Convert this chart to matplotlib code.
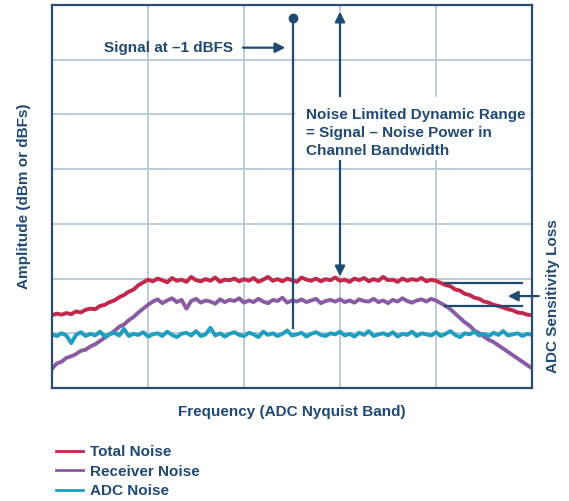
import numpy as np
import matplotlib
matplotlib.use("Agg")
import matplotlib.pyplot as plt
from matplotlib.patches import Rectangle

# --- Data (y in grid units, x across the Nyquist band) ---
total_noise = [
    1.33, 1.36, 1.34, 1.37, 1.35, 1.40, 1.38, 1.43, 1.45, 1.44,
    1.50, 1.52, 1.57, 1.60, 1.66, 1.70, 1.76, 1.80, 1.88, 1.93, 1.98,
    1.95, 2.00, 1.97, 1.93, 2.01, 1.96, 1.98, 1.94, 2.03, 1.97,
    1.95, 1.99, 1.96, 2.02, 1.94, 1.98, 1.97, 2.00, 1.95, 1.99,
    1.96, 2.01, 1.94, 1.98, 2.03, 1.96, 1.99, 1.95, 2.00, 1.97,
    1.94, 2.02, 1.98, 1.96, 2.00, 1.95, 1.99, 1.97, 2.02, 1.96,
    1.98, 1.94, 2.00, 1.97, 2.01, 1.95, 1.99, 1.96, 2.03, 1.97,
    1.98, 1.94, 2.00, 1.96, 1.99, 1.97, 2.01, 1.95, 1.98, 1.96,
    1.92, 1.88, 1.86, 1.80, 1.78, 1.72, 1.70, 1.65, 1.63, 1.58,
    1.56, 1.52, 1.50, 1.47, 1.44, 1.42, 1.38, 1.37, 1.34, 1.33,
]
receiver_noise = [
    0.35, 0.45, 0.48, 0.55, 0.58, 0.62, 0.68, 0.70, 0.76, 0.80,
    0.86, 0.92, 0.98, 1.04, 1.12, 1.16, 1.24, 1.30, 1.38, 1.45, 1.52,
    1.58, 1.62, 1.55, 1.60, 1.64, 1.57, 1.61, 1.45, 1.59, 1.63,
    1.56, 1.60, 1.58, 1.54, 1.62, 1.57, 1.61, 1.59, 1.64, 1.56,
    1.60, 1.57, 1.63, 1.58, 1.55, 1.61, 1.59, 1.65, 1.56, 1.60,
    1.58, 1.62, 1.57, 1.60, 1.63, 1.55, 1.59, 1.61, 1.58, 1.62,
    1.57, 1.60, 1.56, 1.62, 1.59, 1.58, 1.63, 1.57, 1.60, 1.55,
    1.61, 1.58, 1.64, 1.59, 1.56, 1.60, 1.62, 1.58, 1.63, 1.60,
    1.55, 1.50, 1.44, 1.36, 1.28, 1.20, 1.14, 1.05, 1.00, 0.94,
    0.88, 0.84, 0.78, 0.72, 0.66, 0.60, 0.54, 0.48, 0.42, 0.36,
]
adc_noise = [
    0.98, 0.95, 1.00, 0.96, 0.82, 0.97, 1.02, 0.95, 0.99, 0.96,
    1.03, 0.94, 0.98, 1.01, 0.96, 1.08, 0.95, 0.99, 0.97, 1.02,
    0.94, 0.98, 1.00, 0.95, 1.03, 0.97, 0.93, 0.99, 1.01, 0.96,
    1.04, 0.95, 0.98, 1.10, 0.96, 1.00, 0.94, 0.99, 1.02, 0.97,
    0.95, 1.01, 0.98, 0.93, 1.03, 0.97, 1.00, 0.95, 0.99, 1.05,
    0.96, 0.98, 1.01, 0.94, 0.99, 1.02, 0.97, 0.95, 1.00, 0.98,
    1.03, 0.96, 0.99, 0.94, 1.01, 0.97, 1.04, 0.95, 0.98, 1.00,
    0.96, 1.02, 0.94, 0.99, 0.97, 1.03, 0.95, 1.00, 0.98, 0.96,
    1.02, 0.95, 0.99, 1.04, 0.97, 0.93, 1.00, 0.98, 1.03, 0.96,
    0.99, 0.95, 1.01, 0.97, 1.04, 0.96, 0.98, 1.00, 0.95, 0.99, 0.97,
]
series_labels = ["Total Noise", "Receiver Noise", "ADC Noise"]
series_colors = ["#c3284a", "#8b5aa5", "#1e9fc2"]

signal_x, signal_top, signal_bottom = 2.51, 6.76, 1.10
dr_x, dr_top, dr_bottom = 3.0, 6.93, 1.99
loss_top, loss_bottom = 1.92, 1.50

freq = np.linspace(0, 5, len(total_noise))

# --- Style ---
navy = "#1f4a74"
grid_col = "#b8c8d8"
fs = 11
plt.rcParams["font.family"] = ["Liberation Sans", "DejaVu Sans"]
plt.rcParams["font.weight"] = "bold"

fig = plt.figure(figsize=(5.69, 5.01), dpi=100)
ax = fig.add_axes([52 / 569, 1 - 388 / 501, 480 / 569, 383 / 501])

ax.set_xlim(0, 5)
ax.set_ylim(0, 7)
ax.set_xticks(np.arange(0, 6))
ax.set_yticks(np.arange(0, 8))
ax.tick_params(length=0, labelbottom=False, labelleft=False)
ax.grid(True, color=grid_col, linewidth=1.3)
ax.set_axisbelow(True)
for s in ax.spines.values():
    s.set_color("#2b4d73")
    s.set_linewidth(1.6)

# noise curves
for vals, lab, col in zip([total_noise, receiver_noise, adc_noise], series_labels, series_colors):
    ax.plot(freq, vals, color=col, linewidth=2.8, label=lab, zorder=2)

# signal tone
ax.plot([signal_x, signal_x], [signal_bottom, signal_top], color=navy, lw=1.6, zorder=3)
ax.plot(signal_x, signal_top, "o", color=navy, ms=6, zorder=3)
ax.annotate("", xy=(signal_x - 0.05, 6.22), xytext=(1.96, 6.22),
            arrowprops=dict(arrowstyle="-|>", color=navy, lw=1.6, mutation_scale=15))
ax.text(1.89, 6.22, "Signal at \u20131 dBFS", color=navy, fontsize=fs,
        ha="right", va="center", fontweight="bold")

# dynamic range arrow
ax.annotate("", xy=(dr_x, dr_top), xytext=(dr_x, dr_bottom),
            arrowprops=dict(arrowstyle="<|-|>", color=navy, lw=1.6, mutation_scale=15),
            zorder=3)
ax.add_patch(Rectangle((2.53, 4.17), 2.45, 1.15, facecolor="white", edgecolor="none", zorder=4))
ax.text(2.65, 4.66, "Noise Limited Dynamic Range\n= Signal \u2013 Noise Power in\nChannel Bandwidth",
        color=navy, fontsize=fs, ha="left", va="center", linespacing=1.4,
        fontweight="bold", zorder=5)

# ADC sensitivity loss
ax.plot([4.09, 4.90], [loss_top, loss_top], color=navy, lw=1.6, zorder=3)
ax.plot([4.09, 4.90], [loss_bottom, loss_bottom], color=navy, lw=1.6, zorder=3)
ax.annotate("", xy=(4.72, 1.68), xytext=(5.10, 1.68),
            arrowprops=dict(arrowstyle="-|>", color=navy, lw=1.6, mutation_scale=15),
            annotation_clip=False)
ax.text(5.22, 1.68, "ADC Sensitivity Loss", rotation=90, color=navy, fontsize=fs,
        ha="center", va="center", fontweight="bold", clip_on=False)

# axis labels
ax.set_xlabel("Frequency (ADC Nyquist Band)", color=navy, fontsize=fs, fontweight="bold", labelpad=12)
ax.set_ylabel("Amplitude (dBm or dBFs)", color=navy, fontsize=fs, fontweight="bold", labelpad=15)

leg = fig.legend(loc="upper left", bbox_to_anchor=(56 / 569, 1 - 445 / 501), frameon=False,
                 handlelength=1.75, handletextpad=0.5, labelspacing=0.36,
                 borderaxespad=0, borderpad=0, labelcolor=navy, prop={"weight": "bold", "size": fs})
for h in leg.get_lines():
    h.set_linewidth(2.0)

fig.savefig("out.png", dpi=100)
